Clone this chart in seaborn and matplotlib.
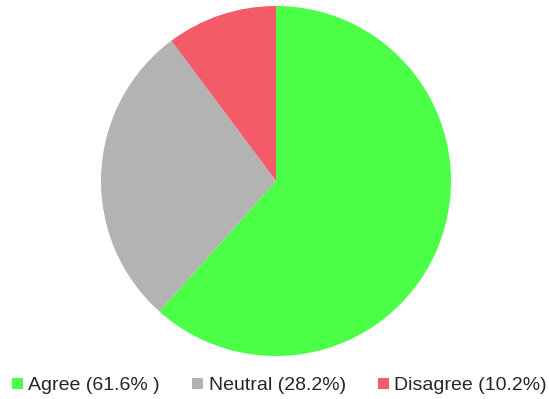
import matplotlib
matplotlib.use("Agg")
import matplotlib.pyplot as plt
from matplotlib.patches import Patch
import seaborn as sns

categories = ["Agree", "Neutral", "Disagree"]
shares = [61.6, 28.2, 10.2]
legend_labels = ["Agree (61.6% )", "Neutral (28.2%)", "Disagree (10.2%)"]
colors = ["#4CFF47", "#B3B3B3", "#F45B69"]

sns.set_theme(style="white")
plt.rcParams["font.family"] = ["Liberation Sans", "DejaVu Sans"]

W, H = 549, 399
fig = plt.figure(figsize=(W / 100, H / 100), dpi=100)
cx, cy, r = 276, 181, 175
ax = fig.add_axes([(cx - r) / W, (H - cy - r) / H, 2 * r / W, 2 * r / H])
ax.pie(shares, colors=colors, startangle=90, counterclock=False,
       wedgeprops=dict(linewidth=0), radius=1.0)
ax.set_xlim(-1, 1)
ax.set_ylim(-1, 1)
ax.set_aspect("equal")
ax.axis("off")

handles = [Patch(facecolor=c, edgecolor="none") for c in colors]
fig.legend(handles, legend_labels, loc="center", bbox_to_anchor=(279.5 / W, 1 - 386 / H),
           ncol=3, frameon=False, fontsize=14.0, handlelength=0.55, handleheight=0.55,
           handletextpad=0.3, columnspacing=1.65, borderaxespad=0, borderpad=0)

fig.savefig("out.png", dpi=100)
